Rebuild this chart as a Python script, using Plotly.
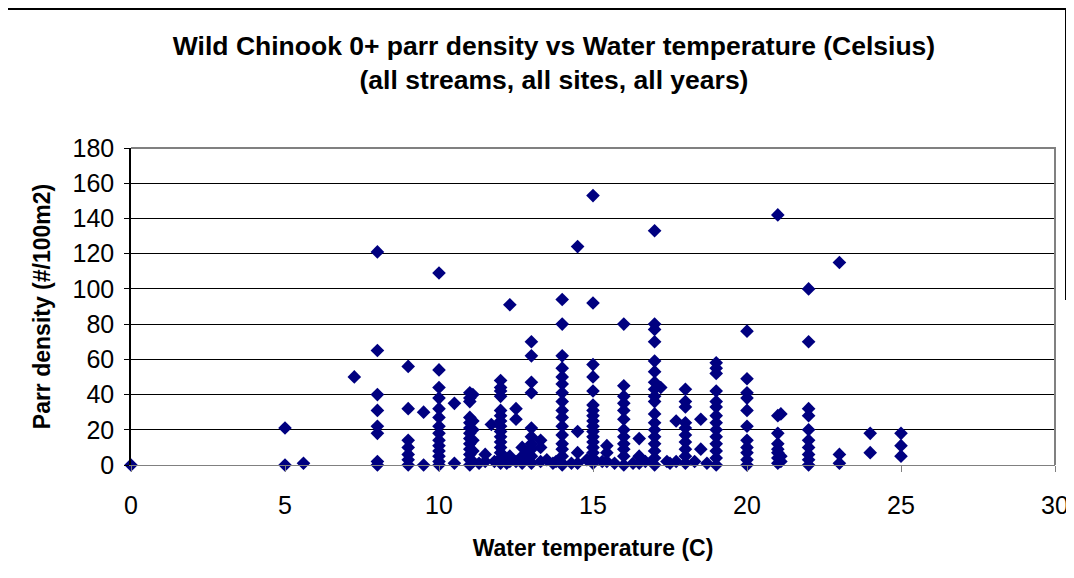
import plotly.graph_objects as go

# Water temperature (C) and parr density (#/100m2), read column by column
temperature = (
    [0] + [5, 5] + [5.6] + [7.25]
    + [8] * 8
    + [9] * 7
    + [9.5] * 2
    + [10] * 14
    + [10.5] * 2
    + [11] * 13
    + [11.1] * 6
    + [11.3, 11.5, 11.5, 11.7, 11.8]
    + [12] * 15
    + [12.2] + [12.3] * 3 + [12.5] * 3 + [12.7] * 3 + [12.9] * 2
    + [13] * 10
    + [13.3] * 3 + [13.5, 13.7, 13.8]
    + [14] * 17
    + [14.3] + [14.5] * 4 + [14.8]
    + [15] * 17
    + [15.3] + [15.45] * 3 + [15.7]
    + [16] * 12
    + [16.3] + [16.5] * 3 + [16.7]
    + [17] * 18
    + [17.2, 17.4, 17.5, 17.7, 17.7]
    + [18] * 10
    + [18.3] + [18.5] * 2 + [18.7]
    + [19] * 14
    + [20] * 11
    + [21] * 8
    + [21.1] * 3
    + [22] * 10
    + [23] * 3
    + [24] * 2
    + [25] * 3
)

density = (
    [0] + [21, 0] + [1] + [50]
    + [121, 65, 40, 31, 22, 18, 2, 0]
    + [56, 32, 14, 10, 6, 3, 0]
    + [30, 0]
    + [109, 54, 44, 38, 32, 27, 22, 18, 14, 11, 8, 5, 2, 0]
    + [35, 1]
    + [41, 38, 36, 27, 24, 21, 18, 15, 12, 9, 6, 3, 0]
    + [40, 25, 20, 14, 8, 2]
    + [1, 6, 2, 23, 2]
    + [48, 44, 42, 39, 31, 28, 25, 22, 19, 16, 13, 10, 7, 4, 1]
    + [1] + [91, 5, 2] + [32, 26, 2] + [10, 5, 1] + [8, 3]
    + [70, 62, 47, 41, 21, 16, 12, 9, 5, 1]
    + [14, 10, 2] + [3, 1, 2]
    + [94, 80, 62, 55, 50, 46, 41, 36, 31, 27, 22, 17, 12, 9, 5, 1, 0]
    + [1] + [124, 19, 7, 1] + [3]
    + [153, 92, 57, 50, 42, 34, 31, 28, 25, 22, 19, 16, 13, 10, 7, 4, 1]
    + [2] + [11, 7, 2] + [1]
    + [80, 45, 39, 35, 31, 26, 20, 16, 12, 9, 5, 0]
    + [1] + [15, 5, 1] + [2]
    + [133, 80, 77, 70, 59, 53, 47, 43, 39, 36, 29, 24, 20, 16, 12, 8, 4, 0]
    + [44, 2, 1, 25, 2]
    + [43, 36, 33, 24, 21, 17, 13, 9, 5, 1]
    + [2] + [26, 9] + [1]
    + [58, 55, 52, 42, 36, 33, 28, 24, 20, 16, 12, 8, 4, 0]
    + [76, 49, 41, 38, 31, 22, 14, 10, 7, 3, 0]
    + [142, 28, 18, 12, 9, 7, 4, 1]
    + [29, 5, 2]
    + [100, 70, 32, 28, 20, 14, 10, 6, 3, 0]
    + [115, 6, 1]
    + [18, 7]
    + [18, 11, 5]
)

x_ticks = [0, 5, 10, 15, 20, 25, 30]
y_ticks = [0, 20, 40, 60, 80, 100, 120, 140, 160, 180]

title_text = ("Wild Chinook 0+ parr density vs Water temperature (Celsius)"
              "<br>(all streams, all sites, all years)")
x_title = "Water temperature (C)"
y_title = "Parr density (#/100m2)"

FONT = "Liberation Sans, Arial, sans-serif"

fig = go.Figure()
fig.add_trace(go.Scatter(
    x=temperature, y=density, mode="markers",
    marker=dict(symbol="diamond", size=10.5, color="#000080",
                line=dict(width=0)),
    cliponaxis=False, showlegend=False, hoverinfo="x+y",
))

# page offset of the plot div (body margin) and plot-area geometry in page px
OFF = 8
L, R, T, B = 131, 1055, 148, 465
W, H = 1074, 578


def px_x(px):
    return (px - L) / (R - L)


def px_y(py):
    return (B - py) / (B - T)


fig.update_layout(
    width=W, height=H,
    margin=dict(l=L - OFF, r=W - (R - L) - (L - OFF),
                t=T - OFF, b=H - (B - T) - (T - OFF), pad=0),
    paper_bgcolor="white", plot_bgcolor="white",
    font=dict(family=FONT, color="black"),
    title=dict(text="<b>" + title_text.replace("<br>", "</b><br><b>") + "</b>",
               x=(554 - OFF) / W, xanchor="center",
               y=1 - (55 - OFF) / H, yanchor="middle",
               font=dict(size=26.5, family=FONT, color="black")),
    xaxis=dict(range=[0, 30], tickvals=x_ticks, ticks="outside", ticklen=6,
               tickcolor="#808080", tickwidth=1, showgrid=False,
               showline=True, linecolor="#808080", linewidth=1,
               zeroline=False, tickfont=dict(size=25),
               ticklabelstandoff=12,
               title=dict(text="<b>" + x_title + "</b>", font=dict(size=23),
                          standoff=21)),
    yaxis=dict(range=[0, 180], tickvals=y_ticks, ticks="outside", ticklen=5,
               tickcolor="black", showgrid=True, gridcolor="black",
               gridwidth=1, showline=True, linecolor="black", linewidth=1.5,
               zeroline=False, tickfont=dict(size=25),
               ticklabelstandoff=5,
               title=dict(text="<b>" + y_title + "</b>", font=dict(size=23),
                          standoff=15)),
    shapes=[
        # gray plot-area border (top and right)
        dict(type="path", xref="paper", yref="paper",
             path="M 0,1 L 1,1 L 1,0", line=dict(color="#808080", width=2),
             layer="above"),
        # chart frame
        dict(type="path", xref="paper", yref="paper",
             path=f"M {px_x(7)},{px_y(600)} L {px_x(7)},{px_y(9)} "
                  f"L {px_x(1066)},{px_y(9)} L {px_x(1066)},{px_y(300)}",
             line=dict(color="black", width=2), layer="above"),
    ],
)

fig.write_html("out.html")
